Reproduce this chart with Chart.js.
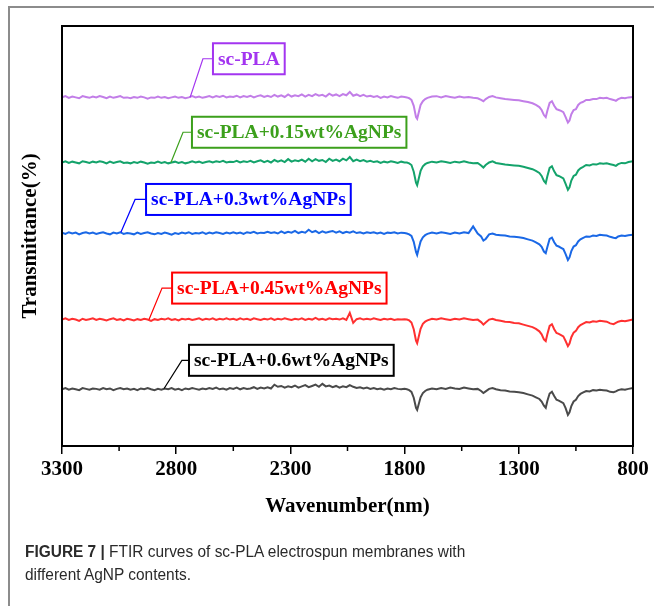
<!DOCTYPE html>
<html>
<head>
<meta charset="utf-8">
<script src="https://cdn.jsdelivr.net/npm/chart.js@4.4.1/dist/chart.umd.min.js"></script>
<style>
  html, body { margin: 0; padding: 0; background: #fff; }
  #wrap { position: relative; width: 654px; height: 606px; overflow: hidden; background: #fff; }
  #frameTop { position: absolute; left: 8px; top: 6px; width: 646px; height: 0; border-top: 2px solid #8c8c8c; }
  #frameLeft { position: absolute; left: 8px; top: 6px; width: 0; height: 600px; border-left: 2px solid #8c8c8c; }
  canvas { position: absolute; left: 0; top: 0; }
  #caption { position: absolute; left: 25px; top: 540px; font-family: "Liberation Sans", Arial, sans-serif; font-size: 16px; line-height: 23px; color: #2a2a2a; white-space: nowrap; transform: scaleX(0.965); transform-origin: 0 0; }
  #caption b { font-weight: bold; }
</style>
</head>
<body>
<div id="wrap">
  <div id="frameTop"></div>
  <div id="frameLeft"></div>
  <canvas id="c" width="654" height="606"></canvas>
  <div id="caption"><b>FIGURE 7 |</b> FTIR curves of sc-PLA electrospun membranes with<br>different AgNP contents.</div>
</div>
<script>
// ---- data ----
const wavenumbers = [
  3300,3285,3270,3255,3240,3225,3210,3195,3180,3165,
  3150,3135,3120,3105,3090,3075,3060,3045,3030,3015,
  3000,2985,2970,2955,2940,2925,2910,2895,2880,2865,
  2850,2835,2820,2805,2790,2775,2760,2745,2730,2715,
  2700,2685,2670,2655,2640,2625,2610,2595,2580,2565,
  2550,2535,2520,2505,2490,2475,2460,2445,2430,2415,
  2400,2385,2370,2355,2340,2325,2310,2295,2280,2265,
  2250,2235,2220,2205,2190,2175,2160,2145,2130,2115,
  2100,2085,2070,2055,2040,2025,2010,1995,1980,1965,
  1950,1935,1920,1905,1890,1875,1860,1845,1830,1815,
  1800,
  1790,1780,1770,1760,1750,1745,1740,1730,1720,1710,1700,
  1680,1660,1640,1620,1600,1580,1560,1540,1520,1500,1480,
  1465,1455,1445,1430,1415,1400,
  1380,1360,1340,1320,1300,1280,1260,1240,
  1225,1210,1200,1190,1182,1175,1165,1155,1145,1135,1125,1115,1105,1095,1085,1078,1070,
  1060,1050,1040,1030,1020,1005,990,975,960,945,930,915,900,885,875,865,850,835,820,800
];

const seriesNames = ['sc-PLA', 'sc-PLA+0.15wt%AgNPs', 'sc-PLA+0.3wt%AgNPs', 'sc-PLA+0.45wt%AgNPs', 'sc-PLA+0.6wt%AgNPs'];

const scPLA = [
  83.0,83.3,82.9,83.2,83.0,82.8,83.3,83.1,82.9,83.2,
  83.0,83.3,83.1,82.8,83.2,82.9,83.1,83.3,82.9,83.0,
  82.8,83.1,82.9,83.2,83.0,82.7,83.0,82.9,83.2,82.9,
  83.1,82.8,83.0,83.2,82.9,83.1,82.8,83.0,83.3,83.0,
  83.2,82.9,83.1,83.3,83.0,83.3,83.1,83.4,83.0,83.2,
  83.1,83.4,83.0,83.3,83.1,83.4,83.0,83.3,83.5,83.1,
  83.4,83.1,83.6,83.2,83.5,83.1,83.7,83.2,83.5,83.3,
  83.7,83.2,83.6,83.3,83.8,83.4,83.6,83.2,83.9,83.4,
  83.7,83.3,83.8,83.5,84.3,83.4,83.7,83.3,83.6,83.2,
  83.4,83.1,83.3,82.9,83.2,83.0,83.3,83.1,82.9,83.2,
  83.1,
  83.0,82.8,82.4,81.0,78.3,77.9,79.0,81.2,82.1,82.6,82.9,
  83.2,83.3,83.0,83.3,83.1,82.9,83.2,83.0,83.1,82.9,82.8,
  82.4,82.1,82.6,83.1,83.3,83.0,
  82.8,82.6,82.5,82.4,82.3,82.1,81.9,81.6,
  81.2,80.7,80.0,78.8,78.3,79.8,81.7,82.1,81.0,80.2,80.0,79.8,79.5,78.3,77.0,77.5,79.0,
  80.0,80.2,81.2,81.7,81.9,82.4,82.4,82.6,82.6,82.9,82.8,82.9,82.6,82.4,82.2,82.6,82.9,82.8,83.0,83.1
];

const agNP015 = [
  67.5,67.8,67.4,67.7,67.5,67.3,67.8,67.6,67.4,67.7,
  67.5,67.8,67.6,67.3,67.7,67.4,67.6,67.8,67.4,67.5,
  67.3,67.6,67.4,67.7,67.5,67.2,67.5,67.4,67.7,67.4,
  67.6,67.3,67.5,67.7,67.4,67.6,67.3,67.5,67.8,67.5,
  67.7,67.4,67.6,67.8,67.5,67.8,67.6,67.9,67.5,67.7,
  67.6,67.9,67.5,67.8,67.6,67.9,67.5,67.8,68.0,67.6,
  67.9,67.5,68.1,67.7,68.0,67.6,68.3,67.7,68.0,67.8,
  68.2,67.7,68.4,67.8,68.3,67.9,68.1,67.6,68.4,67.9,
  68.2,67.8,68.4,68.0,68.8,67.8,68.2,67.8,68.1,67.7,
  67.9,67.6,67.8,67.4,67.7,67.5,67.8,67.6,67.4,67.7,
  67.5,
  67.5,67.3,66.9,65.3,62.7,62.1,63.2,65.5,66.6,67.1,67.4,
  67.7,67.5,67.8,67.6,67.4,67.7,67.5,67.8,67.5,67.3,67.4,
  66.8,66.3,66.9,67.5,67.8,67.4,
  67.2,67.0,66.9,66.8,66.7,66.5,66.2,65.9,
  65.5,65.0,64.3,63.1,62.6,64.2,66.2,66.6,65.4,64.5,64.3,64.0,63.7,62.4,61.0,61.6,63.2,
  64.3,64.6,65.6,66.1,66.4,66.9,66.8,67.1,67.0,67.3,67.2,67.3,67.1,66.9,66.7,67.1,67.4,67.3,67.6,67.8
];

const agNP03 = [
  50.8,50.5,50.9,50.6,50.8,50.4,50.7,50.9,50.6,50.8,
  50.5,50.7,50.9,50.6,50.4,50.8,50.6,50.9,50.5,50.7,
  50.6,50.4,50.8,50.5,50.7,50.9,50.6,50.4,50.7,50.5,
  50.8,50.6,50.3,50.7,50.5,50.8,50.6,50.9,50.5,50.7,
  50.6,50.9,50.5,50.8,50.6,50.9,50.7,50.5,50.8,50.6,
  50.9,50.6,50.8,50.5,50.9,50.7,51.0,50.6,50.8,50.7,
  51.0,50.7,50.9,50.6,51.1,50.7,51.0,50.8,51.2,50.7,
  51.0,50.8,51.5,50.9,51.2,50.7,51.1,50.8,51.0,51.2,
  50.8,51.1,50.7,51.0,50.8,51.1,50.7,50.9,50.6,50.9,
  50.7,50.9,50.6,50.8,50.5,50.8,50.7,50.9,50.6,50.8,
  50.7,
  50.6,50.4,50.0,48.6,46.2,45.5,46.6,48.7,49.7,50.2,50.5,
  50.8,50.6,50.9,50.7,50.5,50.8,50.6,50.9,50.7,52.3,50.6,
  49.9,48.9,49.3,50.4,50.6,50.3,
  50.2,50.1,49.9,49.8,49.7,49.5,49.2,48.9,
  48.5,48.0,47.4,46.3,45.9,47.4,49.3,49.6,48.5,47.7,47.5,47.2,46.9,45.7,44.3,44.9,46.4,
  47.5,47.8,48.7,49.2,49.5,49.9,49.8,50.1,50.0,50.3,50.2,50.1,49.8,49.6,49.5,49.9,50.1,50.0,50.2,50.3
];

const agNP045 = [
  30.1,30.4,30.0,30.3,30.1,29.8,30.3,30.0,30.2,30.4,
  30.0,30.3,30.1,29.9,30.2,30.4,30.0,30.2,29.9,30.3,
  30.1,29.9,30.2,30.0,30.3,30.1,29.8,30.2,30.0,30.3,
  30.1,30.4,30.0,30.2,29.9,30.3,30.1,30.3,30.0,30.2,
  30.4,30.0,30.3,30.1,30.4,30.0,30.3,30.1,30.4,30.1,
  30.3,30.0,30.4,30.1,30.3,30.0,30.4,30.2,30.0,30.3,
  30.1,30.4,30.0,30.3,30.1,30.4,30.2,30.0,30.3,30.1,
  30.4,30.0,30.3,30.1,30.5,30.1,30.3,30.0,30.4,30.2,
  30.3,30.1,30.4,30.0,31.7,29.3,30.2,30.4,30.1,30.3,
  30.1,30.4,30.2,30.0,30.3,30.1,30.3,30.0,30.2,30.1,
  30.2,
  30.1,29.9,29.4,27.8,25.1,24.5,25.6,27.9,29.1,29.6,29.9,
  30.3,30.1,30.4,30.2,30.0,30.3,30.1,30.4,30.2,30.0,30.1,
  29.5,28.9,29.4,30.1,30.3,30.0,
  29.8,29.6,29.5,29.3,29.2,28.9,28.6,28.3,
  27.9,27.3,26.6,25.4,25.0,26.6,28.6,29.0,27.8,26.9,26.7,26.4,26.1,25.0,23.8,24.4,25.9,
  27.0,27.4,28.3,28.8,29.1,29.5,29.4,29.7,29.6,29.8,29.7,29.6,29.2,29.0,29.3,29.6,29.8,29.7,29.9,30.1
];

const agNP06 = [
  13.5,13.8,13.4,13.7,13.5,13.3,13.8,13.6,13.4,13.7,
  13.6,13.4,13.8,13.5,13.7,13.3,13.6,13.8,13.5,13.7,
  13.4,13.6,13.3,13.7,13.5,13.8,13.5,13.3,13.6,13.4,
  13.7,13.5,13.8,13.4,13.6,13.3,13.7,13.5,13.8,13.6,
  13.4,13.7,13.5,13.8,13.6,13.9,13.5,13.7,13.4,13.8,
  13.6,13.9,13.5,13.8,13.6,13.7,14.0,13.6,13.9,13.7,
  14.0,13.7,14.6,14.1,14.3,13.9,14.2,14.0,14.4,13.9,
  14.2,14.5,14.0,14.3,14.6,14.1,14.8,14.2,14.4,14.0,
  14.3,13.9,14.2,14.0,14.5,14.1,13.8,14.0,13.7,13.9,
  13.6,13.8,13.5,13.7,13.4,13.7,13.5,13.8,13.6,13.5,
  13.6,
  13.5,13.3,12.9,11.5,9.1,8.6,9.6,11.6,12.6,13.1,13.4,
  13.7,13.5,13.8,13.6,13.9,13.7,13.6,13.9,13.7,13.5,13.6,
  13.1,12.6,13.0,13.6,13.8,13.5,
  13.3,13.2,13.0,12.9,12.8,12.6,12.3,12.0,
  11.6,11.2,10.6,9.6,9.1,10.7,12.5,12.9,11.9,11.0,10.8,10.5,10.2,9.0,7.4,8.0,9.5,
  10.6,11.0,11.9,12.4,12.7,13.1,13.0,13.3,13.2,13.4,13.3,13.2,12.9,12.8,13.0,13.3,13.5,13.4,13.6,13.8
];

const xTickValues = [3300, 3050, 2800, 2550, 2300, 2050, 1800, 1550, 1300, 1050, 800];
const xTickLabels = [3300, 2800, 2300, 1800, 1300, 800];

// ---- styles ----
const lineColors  = ['#c27ee8', '#14a36b', '#1a68e6', '#ff3030', '#4a4a4a'];
const labelColors = ['#a335f0', '#3ca01c', '#0000ff', '#ff0000', '#000000'];
const allSeries = [scPLA, agNP015, agNP03, agNP045, agNP06];

// label placement in data coordinates: anchor wavenumber on the curve, elbow wavenumber, box left wavenumber, box centre value
const labelPlacement = [
  { anchor: 2739, elbow: 2683, boxLeft: 2639, boxY: 92.2 },
  { anchor: 2823, elbow: 2770, boxLeft: 2731, boxY: 74.7 },
  { anchor: 3042, elbow: 2980, boxLeft: 2932, boxY: 58.7 },
  { anchor: 2919, elbow: 2862, boxLeft: 2818, boxY: 37.6 },
  { anchor: 2853, elbow: 2775, boxLeft: 2744, boxY: 20.4 }
];

const serif = '"Liberation Serif", "Times New Roman", serif';

const datasets = allSeries.map((vals, k) => ({
  label: seriesNames[k],
  data: wavenumbers.map((w, i) => ({ x: w, y: vals[i] })),
  borderColor: lineColors[k],
  borderWidth: 2,
  pointRadius: 0,
  tension: 0,
  fill: false
}));

function valueAt(vals, wn) {
  let best = 0, bd = Infinity;
  wavenumbers.forEach((w, i) => { const d = Math.abs(w - wn); if (d < bd) { bd = d; best = i; } });
  return vals[best];
}

const decorPlugin = {
  id: 'decor',
  afterDatasetsDraw(chart) {
    const { ctx, chartArea: a, scales: { x, y } } = chart;
    ctx.save();
    // frame box
    ctx.strokeStyle = '#000';
    ctx.lineWidth = 2;
    ctx.strokeRect(a.left, a.top, a.right - a.left, a.bottom - a.top);
    // minor ticks
    ctx.lineWidth = 1.5;
    xTickValues.forEach(v => {
      if (xTickLabels.includes(v)) return;
      const px = x.getPixelForValue(v);
      ctx.beginPath();
      ctx.moveTo(px, a.bottom);
      ctx.lineTo(px, a.bottom + 5);
      ctx.stroke();
    });
    // labels
    ctx.font = 'bold 19.5px ' + serif;
    ctx.textBaseline = 'middle';
    labelPlacement.forEach((p, k) => {
      const ax = x.getPixelForValue(p.anchor);
      const ay = y.getPixelForValue(valueAt(allSeries[k], p.anchor));
      const ex = x.getPixelForValue(p.elbow);
      const bx = x.getPixelForValue(p.boxLeft);
      const by = y.getPixelForValue(p.boxY);
      const tw = ctx.measureText(seriesNames[k]).width;
      const bw = tw + 10, bh = 31;
      ctx.strokeStyle = labelColors[k];
      ctx.lineWidth = 1.2;
      ctx.beginPath();
      ctx.moveTo(ax, ay);
      ctx.lineTo(ex, by);
      ctx.lineTo(bx, by);
      ctx.stroke();
      ctx.fillStyle = '#fff';
      ctx.fillRect(bx, by - bh / 2, bw, bh);
      ctx.lineWidth = 2;
      ctx.strokeRect(bx, by - bh / 2, bw, bh);
      ctx.fillStyle = labelColors[k];
      ctx.fillText(seriesNames[k], bx + 5, by + 1);
    });
    ctx.restore();
  }
};

new Chart(document.getElementById('c'), {
  type: 'line',
  data: { datasets },
  plugins: [decorPlugin],
  options: {
    responsive: false,
    animation: false,
    devicePixelRatio: 1,
    layout: { padding: { left: 0, top: 26, right: 21, bottom: 0 } },
    plugins: { legend: { display: false }, tooltip: { enabled: false } },
    scales: {
      x: {
        type: 'linear',
        reverse: true,
        min: 800,
        max: 3300,
        afterBuildTicks: s => { s.ticks = xTickValues.map(v => ({ value: v })); },
        afterFit: s => { s.height = 160; },
        border: { display: false },
        grid: {
          drawOnChartArea: false,
          drawTicks: true,
          tickLength: 8,
          lineWidth: 1.5,
          color: c => (c.tick && xTickLabels.includes(c.tick.value)) ? '#000' : 'rgba(0,0,0,0)'
        },
        ticks: {
          autoSkip: false,
          maxRotation: 0,
          padding: 3,
          color: '#000',
          font: { family: serif, size: 21, weight: 'bold' },
          callback: v => xTickLabels.includes(v) ? String(v) : ''
        },
        title: {
          display: true,
          text: 'Wavenumber(nm)',
          color: '#000',
          font: { family: serif, size: 21, weight: 'bold' },
          padding: { top: 0, bottom: 87 }
        }
      },
      y: {
        type: 'linear',
        min: 0,
        max: 100,
        afterFit: s => { s.width = 62; },
        border: { display: false },
        grid: { display: false },
        ticks: { display: false },
        title: {
          display: true,
          text: 'Transmittance(%)',
          color: '#000',
          font: { family: serif, size: 21, weight: 'bold' },
          padding: { top: 18, bottom: 0 }
        }
      }
    }
  }
});
</script>
</body>
</html>
